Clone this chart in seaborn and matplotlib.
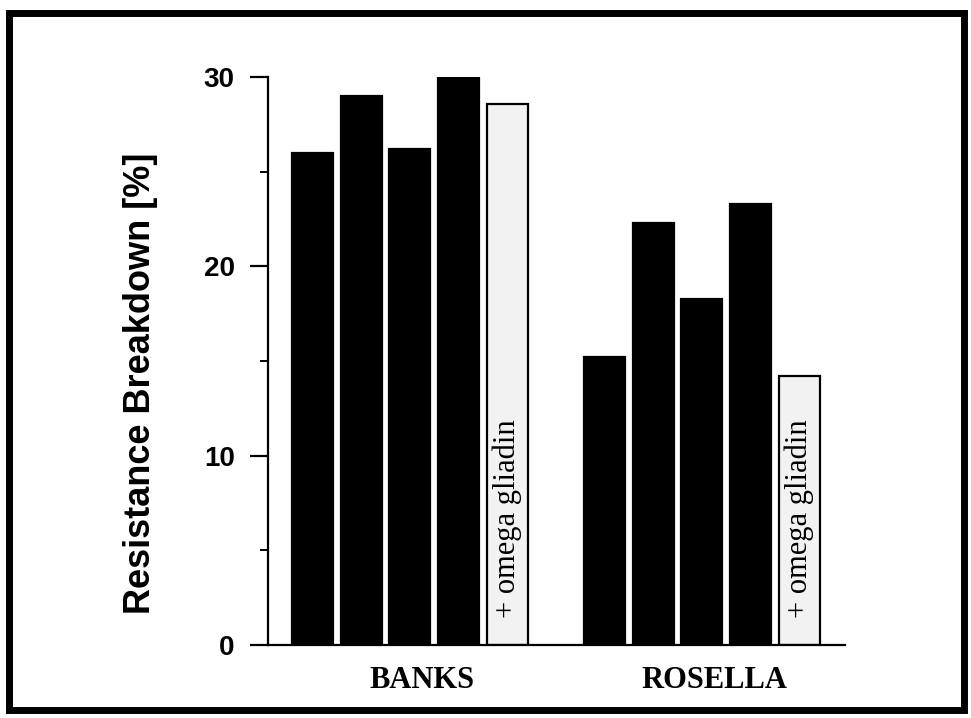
import matplotlib
matplotlib.use("Agg")
import matplotlib.pyplot as plt
import matplotlib.transforms as mtransforms
import seaborn as sns
import pandas as pd
from matplotlib.patches import Rectangle

# ---- data ----
varieties = ["BANKS", "ROSELLA"]
treatments = ["1", "2", "3", "4", "+ omega gliadin"]
banks_values = [26.0, 29.0, 26.2, 30.0, 28.6]
rosella_values = [15.2, 22.3, 18.3, 23.3, 14.2]
y_ticks = [0, 10, 20, 30]
y_minor = [5, 15, 25]
y_label = "Resistance Breakdown [%]"

rows = []
for t, v in zip(treatments, banks_values):
    rows.append({"variety": varieties[0], "treatment": t, "value": v})
for t, v in zip(treatments, rosella_values):
    rows.append({"variety": varieties[1], "treatment": t, "value": v})
df = pd.DataFrame(rows)

sns.set_style("white")
plt.rcParams["font.family"] = ["Liberation Sans", "DejaVu Sans"]
plt.rcParams["text.color"] = "black"
plt.rcParams["axes.labelcolor"] = "black"
plt.rcParams["xtick.color"] = "black"
plt.rcParams["ytick.color"] = "black"

fig = plt.figure(figsize=(9.71, 7.18), dpi=100)
ax = fig.add_axes([268 / 971, 73 / 718, 577 / 971, 568 / 718])

palette = ["black", "black", "black", "black", "#f2f2f2"]
sns.barplot(data=df, x="variety", y="value", hue="treatment",
            hue_order=treatments, order=varieties, palette=palette,
            saturation=1, width=0.834, gap=0.16, edgecolor="black",
            linewidth=1.6, legend=False, ax=ax)

ax.set_xlim(-0.486, 1.49)
ax.set_ylim(0, 30)
ax.set_xlabel("")
ax.set_ylabel("")

for s in ["top", "right"]:
    ax.spines[s].set_visible(False)
for s in ["left", "bottom"]:
    ax.spines[s].set_linewidth(1.6)
    ax.spines[s].set_color("black")

ax.set_yticks(y_ticks)
ax.set_yticklabels([str(t) for t in y_ticks], fontsize=20, fontweight="bold",
                   color="black")
ax.set_yticks(y_minor, minor=True)
ax.tick_params(axis="y", which="major", direction="out", length=13, width=1.6,
               pad=11, left=True, color="black", labelcolor="black")
ax.tick_params(axis="y", which="minor", direction="out", length=6, width=1.4,
               left=True, color="black")
ax.tick_params(axis="x", which="both", length=0, pad=15, labelcolor="black")
shift = mtransforms.ScaledTranslation(12 / 100, 0, fig.dpi_scale_trans)
for lbl in ax.get_xticklabels():
    lbl.set_fontfamily(["Liberation Serif", "DejaVu Serif"])
    lbl.set_fontweight("bold")
    lbl.set_fontsize(22)
    lbl.set_color("black")
    lbl.set_transform(lbl.get_transform() + shift)

# text inside the omega-gliadin bars
for patch in ax.containers[-1]:
    cx = patch.get_x() + patch.get_width() / 2
    ax.text(cx, 1.4, treatments[-1], rotation=90, ha="center", va="bottom",
            fontsize=22, color="black",
            family=["Liberation Serif", "DejaVu Serif"])

fig.text(140 / 971, 1 - 383 / 718, y_label, rotation=90, ha="center",
         va="center", fontsize=26, fontweight="bold", color="black")

# thick outer frame
fig.patches.append(Rectangle((9 / 971, 1 - 710 / 718), (964 - 9) / 971,
                             (710 - 13) / 718, transform=fig.transFigure,
                             fill=False, edgecolor="black", linewidth=5))

fig.savefig("out.png", dpi=100)
